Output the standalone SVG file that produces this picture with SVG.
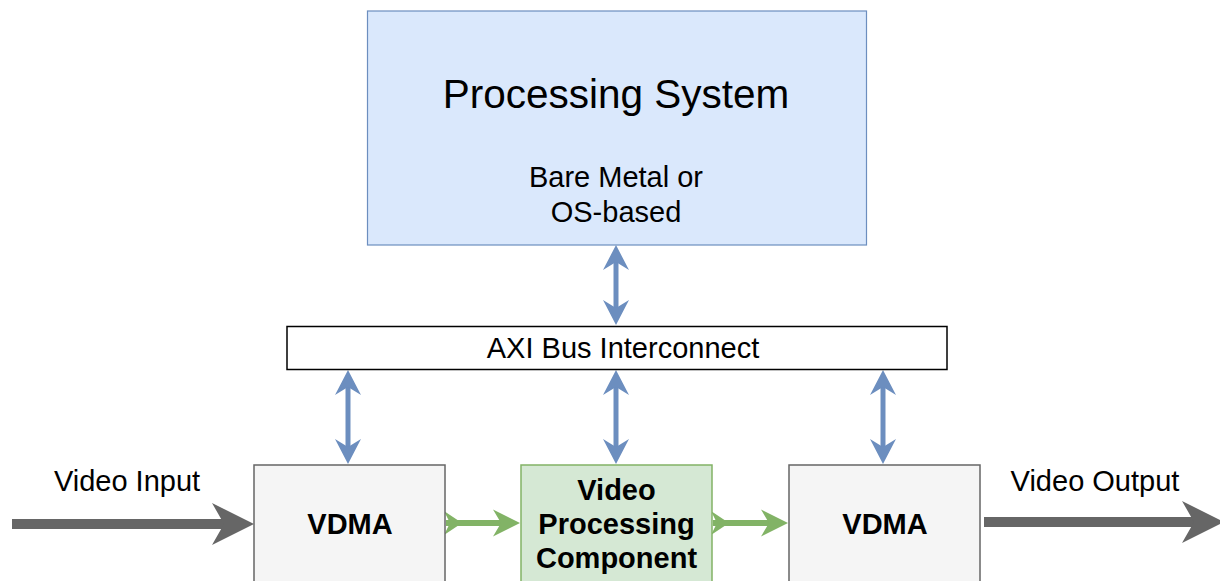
<svg xmlns="http://www.w3.org/2000/svg" width="1220" height="581" viewBox="0 0 1220 581">
  <style>
    text { font-family: "Liberation Sans", Arial, Helvetica, sans-serif; fill: #000; text-anchor: middle; }
    .t29 { font-size: 29px; }
    .b29 { font-size: 29px; font-weight: bold; }
    .blue { stroke: #6c8ebf; stroke-width: 5; fill: none; }
    .green { stroke: #82b366; stroke-width: 6; fill: none; }
    .grey { stroke: #666666; stroke-width: 10; fill: none; }
  </style>
  <defs>
    <marker id="blueHead" markerUnits="userSpaceOnUse" viewBox="-9 -14 28 28" refX="0" refY="0" markerWidth="28" markerHeight="28" orient="auto-start-reverse">
      <path d="M17,0 L-8,-13 L0,0 L-8,13 Z" fill="#6c8ebf"/>
    </marker>
  </defs>
  <rect width="1220" height="581" fill="#ffffff"/>

  <g id="connectors">
    <!-- PS <-> AXI -->
    <line class="blue" x1="616" y1="262" x2="616" y2="308" marker-start="url(#blueHead)" marker-end="url(#blueHead)"/>
    <!-- AXI <-> boxes -->
    <line class="blue" x1="348" y1="387" x2="348" y2="447" marker-start="url(#blueHead)" marker-end="url(#blueHead)"/>
    <line class="blue" x1="616" y1="387" x2="616" y2="447" marker-start="url(#blueHead)" marker-end="url(#blueHead)"/>
    <line class="blue" x1="883" y1="387" x2="883" y2="447" marker-start="url(#blueHead)" marker-end="url(#blueHead)"/>
    <!-- Video input -->
    <line class="grey" x1="12" y1="524" x2="226" y2="524"/>
    <path d="M254,524 L212,503 L224,524 L212,545 Z" fill="#666666"/>
    <!-- Video output -->
    <line class="grey" x1="984" y1="522" x2="1194" y2="522"/>
    <path d="M1224,522 L1182,501 L1194,522 L1182,543 Z" fill="#666666"/>
    <!-- green VDMA -> VPC -->
    <path d="M444,511 L462,523 L444,535 L450,523 Z" fill="#82b366"/>
    <line class="green" x1="446" y1="523" x2="501" y2="523"/>
    <path d="M520,523 L493,509.5 L501,523 L493,536.5 Z" fill="#82b366"/>
    <!-- green VPC -> VDMA -->
    <path d="M711,511 L729,523 L711,535 L717,523 Z" fill="#82b366"/>
    <line class="green" x1="713" y1="523" x2="769" y2="523"/>
    <path d="M788,523 L761,509.5 L769,523 L761,536.5 Z" fill="#82b366"/>
  </g>

  <g id="processing-system">
    <rect x="367.5" y="11" width="499" height="234" fill="#dae8fc" stroke="#6c8ebf" stroke-width="1.2"/>
    <text x="616" y="108" style="font-size:40.5px">Processing System</text>
    <text class="t29" x="616" y="187">Bare Metal or</text>
    <text class="t29" x="616" y="222">OS-based</text>
  </g>

  <g id="axi-bus">
    <rect x="287" y="326.5" width="660" height="43" fill="#ffffff" stroke="#000000" stroke-width="1.5"/>
    <text class="t29" x="623" y="358">AXI Bus Interconnect</text>
  </g>

  <g id="vdma-in">
    <rect x="254" y="465" width="191" height="130" fill="#f5f5f5" stroke="#666666" stroke-width="1.5"/>
    <text class="b29" x="350" y="534">VDMA</text>
  </g>

  <g id="vpc">
    <rect x="521" y="465" width="191" height="130" fill="#d5e8d4" stroke="#82b366" stroke-width="1.5"/>
    <text class="b29" x="616.5" y="500">Video</text>
    <text class="b29" x="616.5" y="534">Processing</text>
    <text class="b29" x="616.5" y="568">Component</text>
  </g>

  <g id="vdma-out">
    <rect x="789" y="465" width="191" height="130" fill="#f5f5f5" stroke="#666666" stroke-width="1.5"/>
    <text class="b29" x="885" y="534">VDMA</text>
  </g>

  <g id="labels">
    <text class="t29" x="127" y="491">Video Input</text>
    <text class="t29" x="1095" y="491">Video Output</text>
  </g>
</svg>
